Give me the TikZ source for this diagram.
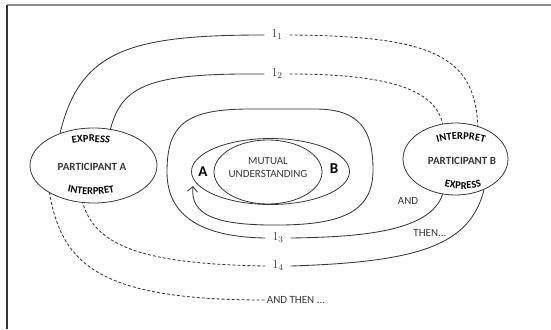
\documentclass[tikz,border=0pt]{standalone}
\usepackage{fontspec}
\setmainfont{Carlito}
\usepackage{tikz}
\usetikzlibrary{arrows.meta,shapes.geometric,decorations.text}
\definecolor{inkgray}{RGB}{55,55,55}
\definecolor{framegray}{RGB}{140,140,140}
\tikzset{
  person/.style={ellipse, draw=inkgray, line width=0.8pt, inner sep=0pt},
  venn/.style={ellipse, draw=inkgray, line width=0.8pt, inner sep=0pt},
  title/.style={font=\fontsize{11}{13}\selectfont\bfseries, text=inkgray},
  plain/.style={font=\fontsize{11}{13}\selectfont, text=inkgray, align=center},
  side/.style={font=\fontsize{15}{17}\selectfont\bfseries, text=black},
  turn/.style={font=\fontsize{13}{15}\selectfont, text=inkgray, inner xsep=7pt, inner ysep=1pt},
  link/.style={inkgray, line width=0.85pt},
  linkdash/.style={link, dash pattern=on 3pt off 2pt},
  arcword/.style={decorate, decoration={text along path, text align=center,
                  text color=black, text={|\fontsize{10.5}{12}\selectfont\bfseries|#1}}},
}
\begin{document}
\begin{tikzpicture}[x=1pt,y=-1pt]
\useasboundingbox (0,0) rectangle (551,329);
\draw[framegray, line width=1.5pt] (7,5) -- (551,5);
\draw[black!80, line width=1.2pt] (7,5) -- (7,329);

\node[person, minimum width=127pt, minimum height=75pt] (pa) at (93.5,165.5) {};
\node[person, minimum width=105pt, minimum height=72pt] (pb) at (455.5,159) {};
\node[venn, minimum width=158pt, minimum height=66pt] (pair) at (270.5,171.5) {};
\node[venn, minimum width=108pt, minimum height=64pt] (mutual) at (268,172) {};

\node[title] (namea) at (92,167) {PARTICIPANT A};
\node[title] (nameb) at (462,161) {PARTICIPANT B};
\node[plain] (mu) at (268,168) {MUTUAL\\UNDERSTANDING};
\node[side] (sa) at (203,172) {A};
\node[side] (sb) at (334,169) {B};

\path[arcword=EXPRESS] (59,148) .. controls (77,140) and (105,140) .. (123,148);
\path[arcword=INTERPRET] (56,188) .. controls (75,197) and (107,197) .. (126,188);
\path[arcword=INTERPRET] (422,150) .. controls (441,136) and (481,136) .. (500,150);
\path[arcword=EXPRESS] (433,183) .. controls (450,191) and (476,191) .. (493,183);

\node[turn] (l1) at (277,35) {$1_1$};
\node[turn] (l2) at (277,74) {$1_2$};
\node[turn] (l3) at (278,238) {$1_3$};
\node[turn] (l4) at (278,266) {$1_4$};
\node[plain, inner xsep=2pt] (andthen) at (296,300) {AND THEN ...};
\node[plain] (and) at (408,201) {AND};
\node[plain] (then) at (430,233) {THEN...};
\coordinate (tipa) at (193,186);

\draw[link] (pa.136) .. controls (80,50) and (130,35) .. (l1.west);
\draw[linkdash] (l1.east) .. controls (430,36) and (475,55) .. (pb.56);
\draw[link] (pa.65) .. controls (122,85) and (150,73) .. (l2.west);
\draw[linkdash] (l2.east) .. controls (390,74) and (435,90) .. (pb.110);
\draw[link] (pb.250) .. controls (430,232) and (360,237) .. (l3.east);
\draw[link, -{Straight Barb[length=5pt]}] (l3.west) .. controls (200,237) and (167,215) .. (167,172)
  .. controls (167,125) and (185,109) .. (250,109) -- (315,109)
  .. controls (360,109) and (373,130) .. (373,170)
  .. controls (373,210) and (345,224) .. (283,225)
  .. controls (215,226) and (190,215) .. (tipa);
\draw[link] (pb.313) .. controls (470,245) and (420,262) .. (l4.east);
\draw[linkdash] (l4.west) .. controls (140,264) and (95,245) .. (pa.254);
\draw[linkdash] (andthen.west) .. controls (100,300) and (62,265) .. (pa.212);
\end{tikzpicture}
\end{document}
